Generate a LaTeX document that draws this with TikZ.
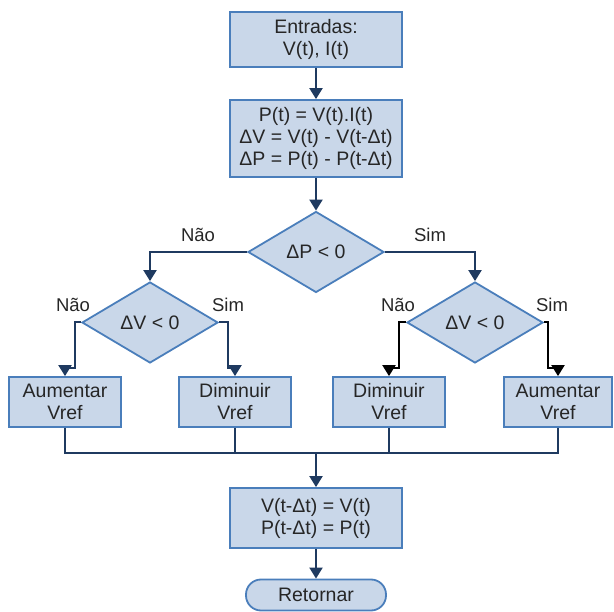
\documentclass[tikz,border=0pt]{standalone}
\usepackage{fontspec}
\setmainfont{Liberation Sans}
\usetikzlibrary{shapes.geometric,arrows.meta}
\definecolor{caixa}{HTML}{C9D7E9}
\definecolor{borda}{HTML}{4A7EBB}
\definecolor{seta}{HTML}{1F3A60}
\tikzset{
  bloco/.style={draw=borda,fill=caixa,line width=1.8pt,align=center,inner sep=0pt,text=black!85,font=\fontsize{19.5}{22}\selectfont},
  decisao/.style={diamond,draw=borda,fill=caixa,line width=1.8pt,minimum width=136pt,minimum height=81pt,inner sep=0pt,aspect=1.66,text=black!85,font=\fontsize{19.5}{22}\selectfont},
  fluxo/.style={draw=seta,line width=2pt},
  ponta/.style={-{Triangle[width=13pt,length=11pt]}},
  rotulo/.style={text=black!85,font=\fontsize{18.5}{22}\selectfont}
}

\begin{document}
\begin{tikzpicture}[x=1pt,y=-1pt]
        \useasboundingbox (0,0) rectangle (614,612);
        \node[bloco,minimum width=172pt,minimum height=55pt] (ent) at (316,39.5){Entradas:\\V(t), I(t)};
        \node[bloco,minimum width=172pt,minimum height=77pt] (calc) at (316,138.5){P(t) = V(t).I(t)\\ΔV = V(t) - V(t-Δt)\\ΔP = P(t) - P(t-Δt)};
        \node[decisao] (dp) at (316,252){ΔP < 0};
        \node[decisao] (dvE) at (150,322.5){ΔV < 0};
        \node[decisao] (dvD) at (475,322.5){ΔV < 0};
        \node[bloco,minimum width=112pt,minimum height=50pt] (aumE) at (65,402){Aumentar\\Vref};
        \node[bloco,minimum width=112pt,minimum height=50pt] (dimE) at (235,402){Diminuir\\Vref};
        \node[bloco,minimum width=112pt,minimum height=50pt] (dimD) at (389,402){Diminuir\\Vref};
        \node[bloco,minimum width=108pt,minimum height=50pt] (aumD) at (558,402){Aumentar\\Vref};
        \node[bloco,minimum width=172pt,minimum height=60pt] (atual) at (316,518){V(t-Δt) = V(t)\\P(t-Δt) = P(t)};
        \node[bloco,rounded corners=15pt,minimum width=140pt,minimum height=31pt] (ret) at (316,595){Retornar};
        % rotulos
        \node[rotulo] (naoP) at (198,235){Não};
        \node[rotulo] (simP) at (430,235){Sim};
        \node[rotulo] (naoE) at (73,305){Não};
        \node[rotulo] (simE) at (228,305){Sim};
        \node[rotulo] (naoD) at (398,305){Não};
        \node[rotulo] (simD) at (552,305){Sim};
        % pontos de desvio
        \coordinate (jaE) at (75,368);
        \coordinate (jbE) at (228,368);
        \coordinate (jaD) at (399,368);
        \coordinate (jbD) at (548,368);
        \coordinate (junta) at (316,453);
        \draw[fluxo,ponta] (ent) -- (calc);
        \draw[fluxo,ponta] (calc) -- (dp);
        \draw[fluxo,ponta] (dp.west) -| (dvE.north);
        \draw[fluxo,ponta] (dp.east) -| (dvD.north);
        \draw[fluxo,ponta] (dvE.west) -| (jaE) -| (aumE.north);
        \draw[fluxo,ponta] (dvE.east) -| (jbE) -| (dimE.north);
        \draw[line width=2pt,ponta] (dvD.west) -| (jaD) -| (dimD.north);
        \draw[line width=2pt,ponta] (dvD.east) -| (jbD) -| (aumD.north);
        \draw[fluxo] (aumE.south) |- (junta) -| (aumD.south);
        \draw[fluxo] (dimE.south) -- (dimE.south |- junta);
        \draw[fluxo] (dimD.south) -- (dimD.south |- junta);
        \draw[fluxo,ponta] (junta) -- (atual);
        \draw[fluxo,ponta] (atual) -- (ret);
    \end{tikzpicture}
\end{document}
